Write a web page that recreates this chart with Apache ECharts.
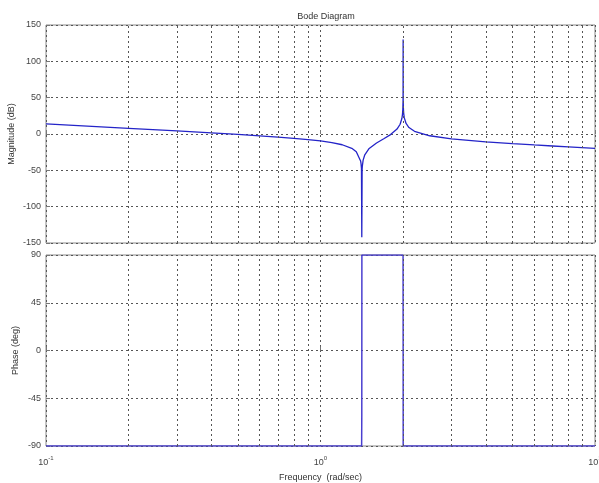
<!DOCTYPE html>
<html>
<head>
<meta charset="utf-8">
<script src="https://cdn.jsdelivr.net/npm/echarts@6/dist/echarts.min.js"></script>
<style>html,body{margin:0;padding:0;background:#fff}#c{width:599px;height:483px}</style>
</head>
<body>
<div id="c"></div>
<script>
// Magnitude response (rad/sec, dB)
const magFreq = [0.1, 0.2, 0.3, 0.4, 0.5, 0.6, 0.7, 0.8, 0.9, 1.0, 1.1, 1.2, 1.3, 1.35, 1.4, 1.405, 1.41, 1.414, 1.418, 1.42, 1.43, 1.45, 1.5, 1.6, 1.7, 1.8, 1.9, 1.95, 1.98, 1.99, 1.995, 1.999, 2.0, 2.001, 2.005, 2.01, 2.02, 2.05, 2.1, 2.2, 2.5, 3, 4, 5, 6, 7, 8, 10];
const magDb = [13.96, 7.87, 4.23, 1.57, -0.6, -2.49, -4.23, -5.92, -7.65, -9.54, -11.79, -14.78, -19.72, -24.4, -37.1, -40.8, -47.5, -142, -48.4, -44.7, -35.9, -28.6, -20.4, -12.3, -6.53, -0.85, 6.74, 13.4, 21.7, 27.8, 33.9, 47.9, 130, 47.97, 34.0, 28.07, 22.15, 14.5, 8.94, 3.73, -2.43, -6.62, -10.7, -13.19, -15.04, -16.52, -17.78, -19.82];
// Phase response (rad/sec, deg)
const phaseFreq = [0.1, 1.412, 1.414, 1.415, 1.999, 2.0, 2.001, 10];
const phaseDeg = [-90, -90, -60, 90, 90, 30, -90, -90];
// Axis ticks
const magTicks = { min: -150, max: 150, step: 50 };
const phaseTicks = { min: -90, max: 90, step: 45 };
const freqRange = { min: 0.1, max: 10 };
const minorFreqGrid = [0.2, 0.3, 0.4, 0.5, 0.6, 0.7, 0.8, 0.9, 2, 3, 4, 5, 6, 7, 8, 9];

const FONT = 'Liberation Sans, Arial, sans-serif';
const TXT = '#333';
const gridLine = { type: [2, 3], color: '#555', width: 1 };

function pairs(xs, ys) { return xs.map((x, i) => [x, ys[i]]); }

function xAxisCfg(idx, showLabels) {
  return {
    type: 'log', logBase: 10, gridIndex: idx,
    min: freqRange.min, max: freqRange.max,
    axisLine: { show: false },
    axisTick: { show: true, inside: true, length: 4, lineStyle: { color: '#777' } },
    splitLine: { show: true, lineStyle: gridLine },
    axisLabel: {
      show: showLabels, margin: 9, color: TXT, fontFamily: FONT, fontSize: 9,
      formatter: v => '{b|10}{s|' + Math.round(Math.log10(v)) + '}',
      rich: {
        b: { fontSize: 9, fontFamily: FONT, color: '#444', lineHeight: 12, verticalAlign: 'bottom' },
        s: { fontSize: 6, fontFamily: FONT, color: '#444', lineHeight: 12, verticalAlign: 'top' }
      }
    },
    name: showLabels ? 'Frequency  (rad/sec)' : '',
    nameLocation: 'middle', nameGap: 27, nameMoveOverlap: false,
    nameTextStyle: { fontFamily: FONT, fontSize: 9, color: TXT }
  };
}

function yAxisCfg(idx, t, name, gap) {
  return {
    type: 'value', gridIndex: idx, min: t.min, max: t.max, interval: t.step,
    axisLine: { show: false },
    axisTick: { show: true, inside: true, length: 4, lineStyle: { color: '#777' } },
    splitLine: { show: true, lineStyle: gridLine },
    axisLabel: { color: '#444', fontFamily: FONT, fontSize: 9, margin: 5 },
    name: name, nameLocation: 'middle', nameGap: gap, nameRotate: 90, nameMoveOverlap: false,
    nameTextStyle: { fontFamily: FONT, fontSize: 9, color: TXT }
  };
}

function minorGridSeries(xi, yi, yv) {
  return {
    type: 'line', xAxisIndex: xi, yAxisIndex: yi, z: 1, silent: true,
    data: [[freqRange.min, yv]], symbol: 'none', lineStyle: { opacity: 0 },
    markLine: {
      silent: true, symbol: ['none', 'none'], label: { show: false },
      lineStyle: gridLine, animation: false,
      data: minorFreqGrid.map(f => ({ xAxis: f }))
    }
  };
}

const chart = echarts.init(document.getElementById('c'), null, { renderer: 'canvas' });
chart.setOption({
  animation: false,
  backgroundColor: '#fff',
  title: {
    text: 'Bode Diagram', left: 321, top: 7, textAlign: 'center',
    textStyle: { fontFamily: FONT, fontSize: 9, fontWeight: 'normal', color: TXT }
  },
  grid: [
    { left: 46, top: 25, width: 549, height: 218, show: true, borderColor: '#888', borderWidth: 1, backgroundColor: '#fff', containLabel: false, outerBoundsMode: 'none' },
    { left: 46, top: 255, width: 549, height: 191, show: true, borderColor: '#888', borderWidth: 1, backgroundColor: '#fff', containLabel: false, outerBoundsMode: 'none' }
  ],
  xAxis: [xAxisCfg(0, false), xAxisCfg(1, true)],
  yAxis: [yAxisCfg(0, magTicks, 'Magnitude (dB)', 30), yAxisCfg(1, phaseTicks, 'Phase (deg)', 26)],
  series: [
    minorGridSeries(0, 0, 0),
    minorGridSeries(1, 1, 0),
    {
      type: 'line', xAxisIndex: 0, yAxisIndex: 0, z: 3,
      data: pairs(magFreq, magDb), symbol: 'none', smooth: false,
      lineStyle: { color: '#2424c8', width: 1.3 }
    },
    {
      type: 'line', xAxisIndex: 1, yAxisIndex: 1, z: 3,
      data: pairs(phaseFreq, phaseDeg), symbol: 'none',
      lineStyle: { color: '#4a3fd0', width: 1.5 }
    }
  ]
});
</script>
</body>
</html>
